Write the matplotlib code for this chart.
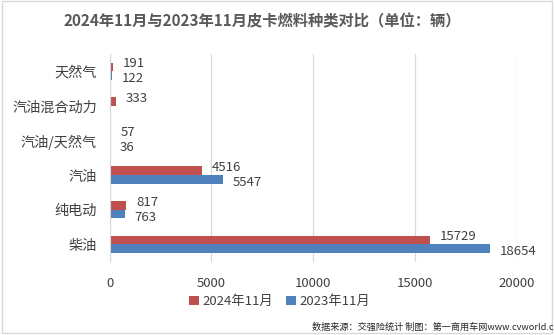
import numpy as np
import matplotlib
matplotlib.use('Agg')
import matplotlib.pyplot as plt
from matplotlib.patches import Rectangle

plt.rcParams['font.family'] = ['Noto Sans CJK SC', 'DejaVu Sans']

categories = ['天然气', '汽油混合动力', '汽油/天然气', '汽油', '纯电动', '柴油']
nov_2024 = [191, 333, 57, 4516, 817, 15729]
nov_2023 = [122, 0, 36, 5547, 763, 18654]
series_names = ['2024年11月', '2023年11月']
xticks = [0, 5000, 10000, 15000, 20000]

RED = '#C0504D'
BLUE = '#4F81BD'
TXT = '#404040'

fig = plt.figure(figsize=(5.54, 3.35), dpi=100)
fig.patches.append(Rectangle((0.004, 0.006), 0.992, 0.99, transform=fig.transFigure,
                             fill=False, edgecolor='#D9D9D9', linewidth=1.0))
ax = fig.add_axes([0.1977, 0.219, 0.7356, 0.62])

y = np.arange(len(categories))
h = 0.25
ax.barh(y - h / 2, nov_2024, height=h, color=RED, label=series_names[0])
ax.barh(y + h / 2, nov_2023, height=h, color=BLUE, label=series_names[1])

# value labels, nudged apart vertically so each pair stays readable
spread = 2.3
for yi, a, b in zip(y, nov_2024, nov_2023):
    ax.annotate(str(a), (a, yi - h / 2), xytext=(7, spread), textcoords='offset points',
                va='center', ha='left', fontsize=9.5, color=TXT)
    if b > 0:
        ax.annotate(str(b), (b, yi + h / 2), xytext=(7, -spread), textcoords='offset points',
                    va='center', ha='left', fontsize=9.5, color=TXT)

ax.set_xlim(0, 20000)
ax.set_ylim(len(categories) - 0.5, -0.5)
ax.set_xticks(xticks)
ax.set_xticklabels([str(t) for t in xticks])
ax.set_yticks(y)
ax.set_yticklabels(categories)
ax.tick_params(axis='x', length=0, pad=11, labelsize=9.5, colors=TXT)
ax.tick_params(axis='y', length=0, pad=9, labelsize=10.2, colors=TXT)
ax.grid(axis='x', color='#D9D9D9', linewidth=0.9)
ax.set_axisbelow(True)
for s in ['top', 'right', 'bottom']:
    ax.spines[s].set_visible(False)
ax.spines['left'].set_color('#D9D9D9')

fig.text(0.473, 0.935, '2024年11月与2023年11月皮卡燃料种类对比（单位：辆）',
         ha='center', va='center', fontsize=11, fontweight='bold', color='#595959')

fig.legend(loc='center', bbox_to_anchor=(0.505, 0.1), ncol=2, frameon=False,
           fontsize=9.5, handlelength=0.7, handleheight=0.7, handletextpad=0.3,
           columnspacing=1.0, labelcolor=TXT)

fig.text(0.563, 0.024, '数据来源：交强险统计 制图：第一商用车网www.cvworld.cn',
         ha='left', va='center', fontsize=6.6, color='#262626')

fig.savefig('out.png', dpi=100)
